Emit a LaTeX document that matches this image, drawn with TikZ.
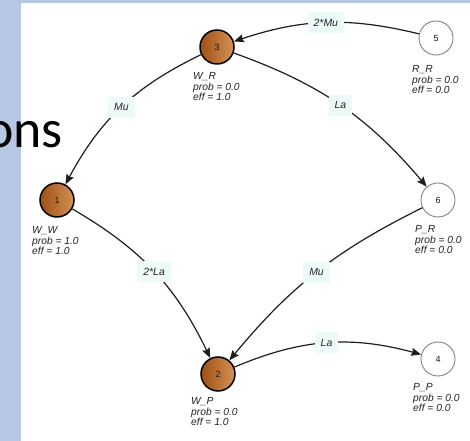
\documentclass[tikz,border=0pt]{standalone}
\usepackage{fontspec}
\setmainfont{Liberation Sans}
\newfontfamily\slidefont{Carlito}
\usetikzlibrary{arrows.meta}
\definecolor{slideblue}{RGB}{181,199,226}
\definecolor{lblfill}{RGB}{236,250,248}
\definecolor{edgecol}{RGB}{30,30,30}
\definecolor{browndark}{RGB}{158,80,22}
\definecolor{brownlight}{RGB}{214,146,84}
\definecolor{ringgray}{RGB}{130,130,130}
\definecolor{infotext}{RGB}{35,35,35}
\tikzset{
  state/.style={circle, minimum size=34bp, inner sep=0pt,
    font=\fontsize{9}{9}\selectfont, text=black!90},
  active/.style={state, draw=black, line width=1.5bp,
    left color=browndark, right color=brownlight},
  idle/.style={state, draw=ringgray, line width=0.9bp, fill=white},
  info/.style={anchor=north west, align=left, inner sep=0pt,
    font=\fontsize{10.3}{10.8}\selectfont\itshape, text=infotext},
  rate/.style={fill=lblfill, inner xsep=6bp, inner ysep=0pt,
    minimum height=21bp, font=\fontsize{10.5}{10.5}\selectfont\itshape,
    text=black!85, pos=0.5},
  trans/.style={draw=edgecol, line width=1.2bp,
    -{Stealth[length=10bp,width=8bp,inset=1.5bp]}}
}
\begin{document}
\begin{tikzpicture}[x=1bp,y=1bp]
  \useasboundingbox (0,0) rectangle (470,441);
  % slide background and white panel
  \fill[slideblue] (0,0) rectangle (470,441);
  \fill[white] (21,0) rectangle (470,438);

  % states
  \node[active] (n3) at (217,394) {3};
  \node[idle]   (n5) at (436,403) {5};
  \node[active] (n1) at (57,241)  {1};
  \node[idle]   (n6) at (438,241) {6};
  \node[active] (n2) at (218,67)  {2};
  \node[idle]   (n4) at (438,82)  {4};

  % transitions
  \draw[trans] (n5) to[bend right=16] node[rate] (r53) {2*Mu} (n3);
  \draw[trans] (n3) to[bend left=15]  node[rate] (r36) {La} (n6);
  \draw[trans] (n3) to[bend right=18] node[rate] (r31) {Mu} (n1);
  \draw[trans] (n1) to[bend left=17]  node[rate] (r12) {2*La} (n2);
  \draw[trans] (n6) to[bend right=12] node[rate] (r62) {Mu} (n2);
  \draw[trans] (n2) to[bend left=19]  node[rate] (r24) {La} (n4);

  % state descriptions
  \node[info] (i3) at (193,369) {W\_R\\prob = 0.0\\eff = 1.0};
  \node[info] (i5) at (412,376) {R\_R\\prob = 0.0\\eff = 0.0};
  \node[info] (i1) at (32,215)  {W\_W\\prob = 1.0\\eff = 1.0};
  \node[info] (i6) at (415,216) {P\_R\\prob = 0.0\\eff = 0.0};
  \node[info] (i2) at (191,44)  {W\_P\\prob = 0.0\\eff = 1.0};
  \node[info] (i4) at (413,58)  {P\_P\\prob = 0.0\\eff = 0.0};

  % slide title fragment, running off the left edge
  \begin{scope}
    \clip (0,0) rectangle (470,441);
    \node[anchor=base east, inner sep=0pt,
      font=\slidefont\fontsize{54}{54}\selectfont] (title) at (63,293) {ons};
  \end{scope}
\end{tikzpicture}
\end{document}
